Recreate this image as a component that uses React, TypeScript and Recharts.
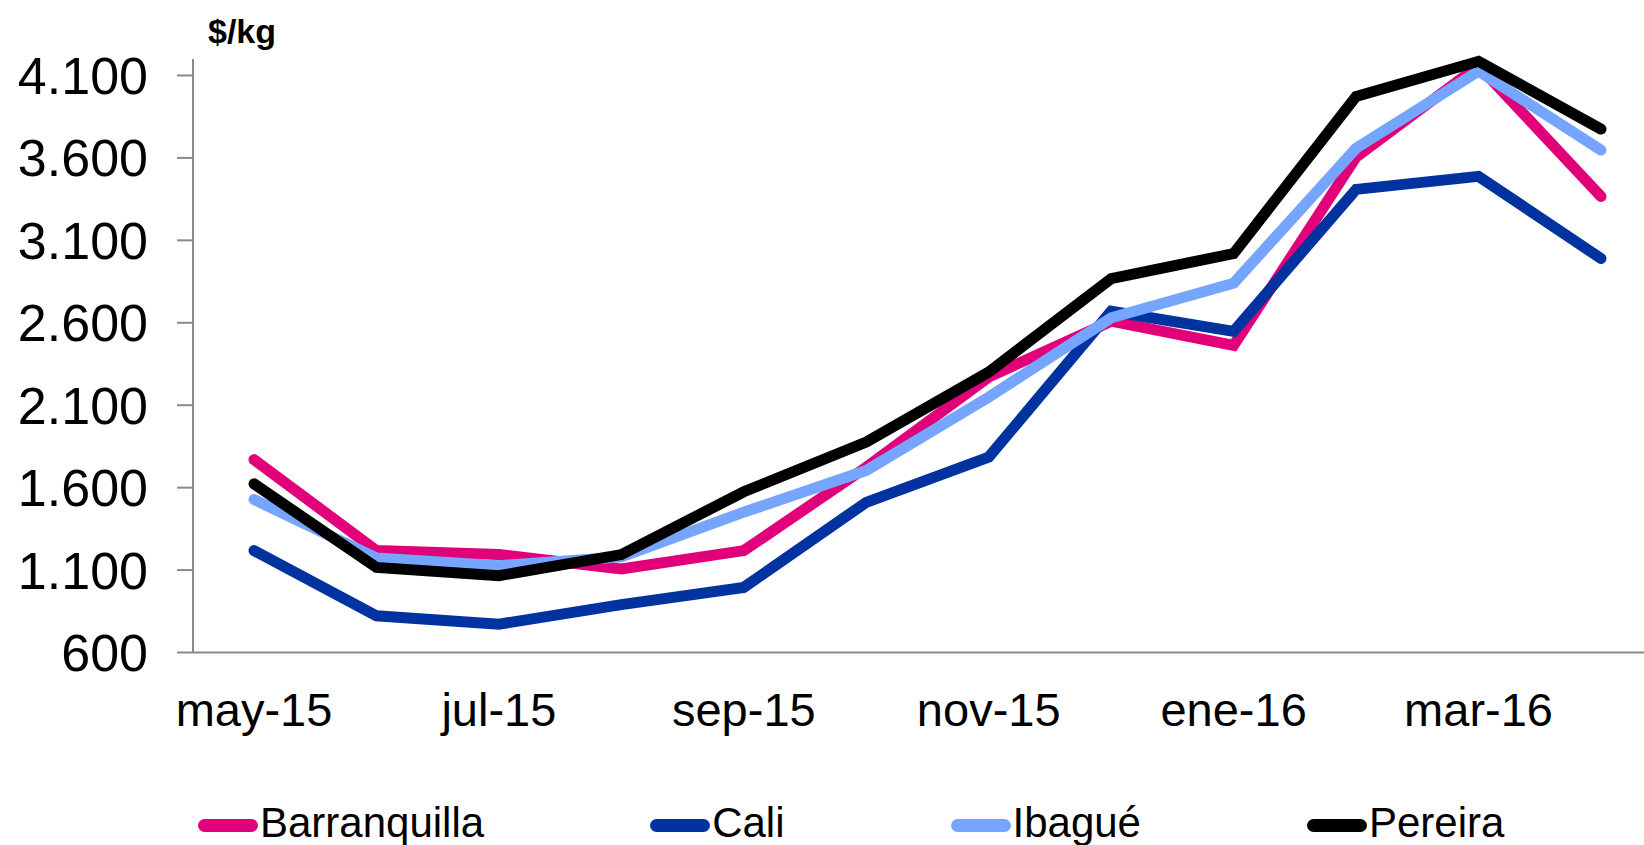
import React from 'react';
import { LineChart, Line, XAxis, YAxis, Legend } from 'recharts';

const months = ['may-15', 'jun-15', 'jul-15', 'ago-15', 'sep-15', 'oct-15', 'nov-15', 'dic-15', 'ene-16', 'feb-16', 'mar-16', 'abr-16'];
const barranquilla = [1770, 1218, 1194, 1107, 1218, 1724, 2271, 2610, 2463, 3605, 4158, 3366];
const cali = [1218, 823, 772, 890, 995, 1511, 1785, 2670, 2548, 3409, 3488, 2990];
const ibague = [1528, 1173, 1127, 1180, 1451, 1704, 2149, 2630, 2840, 3659, 4126, 3648];
const pereira = [1623, 1116, 1066, 1194, 1575, 1876, 2301, 2868, 3020, 3973, 4186, 3775];
const yTicks = [600, 1100, 1600, 2100, 2600, 3100, 3600, 4100];
const unitLabel = '$/kg';

const seriesDefs = [
  { key: 'Barranquilla', values: barranquilla, color: '#E2007A' },
  { key: 'Cali', values: cali, color: '#0033A0' },
  { key: 'Ibagué', values: ibague, color: '#75A5FF' },
  { key: 'Pereira', values: pereira, color: '#000000' },
];

const data = months.map((m, i) => {
  const row: Record<string, string | number> = { month: m };
  seriesDefs.forEach((s) => {
    row[s.key] = s.values[i];
  });
  return row;
});

const FONT = '"Liberation Sans", Arial, sans-serif';

const fmt = (v: number) => String(v).replace(/\B(?=(\d{3})+(?!\d))/g, '.');

const renderLegend = () => (
  <div style={{ display: 'flex', alignItems: 'center', paddingLeft: 198, height: 40, fontFamily: FONT }}>
    {seriesDefs.map((s) => (
      <div key={s.key} style={{ display: 'flex', alignItems: 'center', marginRight: 166 }}>
        <div style={{ width: 60, height: 13, borderRadius: 7, background: s.color, marginTop: 4, marginRight: 2 }} />
        <span style={{ fontSize: 42, lineHeight: '40px', color: '#000' }}>{s.key}</span>
      </div>
    ))}
  </div>
);

export default function App() {
  return (
    <div style={{ position: 'absolute', left: 0, top: 0, width: 1644, height: 845, overflow: 'hidden', background: '#fff' }}>
      <LineChart
        width={1644}
        height={845}
        data={data}
        margin={{ top: 59, right: 0, left: 0, bottom: 52.5 }}
      >
        <XAxis
          dataKey="month"
          interval={1}
          padding={{ left: 61, right: 43 }}
          tickLine={false}
          tickSize={0}
          tickMargin={40}
          height={100}
          axisLine={{ stroke: '#8a8a8a', strokeWidth: 2 }}
          tick={{ fontSize: 47, fill: '#000', fontFamily: FONT }}
        />
        <YAxis
          type="number"
          domain={[600, 4200]}
          ticks={yTicks}
          width={193}
          tickSize={16}
          tickMargin={29}
          tickFormatter={fmt}
          axisLine={{ stroke: '#8a8a8a', strokeWidth: 2 }}
          tickLine={{ stroke: '#8a8a8a', strokeWidth: 2 }}
          tick={{ fontSize: 52, fill: '#000', fontFamily: FONT }}
          label={{
            content: (props: any) => {
              const vb = props.viewBox || { x: 0, y: 59, width: 193 };
              return (
                <text x={vb.x + vb.width + 15} y={vb.y - 16} fontSize={34} fontWeight="bold" fontFamily={FONT} fill="#000">
                  {unitLabel}
                </text>
              );
            },
          }}
        />
        <Legend
          content={renderLegend}
          verticalAlign="bottom"
          wrapperStyle={{ top: 803, left: 0, bottom: 'auto', width: 1644, height: 40 }}
        />
        {seriesDefs.map((s) => (
          <Line
            key={s.key}
            type="linear"
            dataKey={s.key}
            stroke={s.color}
            strokeWidth={11}
            strokeLinecap="round"
            dot={false}
            activeDot={false}
            isAnimationActive={false}
          />
        ))}
      </LineChart>
    </div>
  );
}
